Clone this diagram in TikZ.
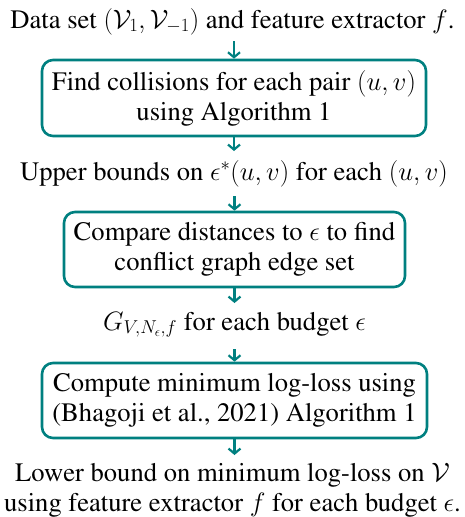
\RequirePackage{fix-cm}
\documentclass[tikz,border=0pt]{standalone}
\usepackage[T1]{fontenc}
\usepackage{times}
\usetikzlibrary{arrows.meta}
\definecolor{boxteal}{RGB}{0,128,128}
\begin{document}
\begin{tikzpicture}[x=1pt,y=1pt,
  every node/.style={font=\fontsize{26.6}{30}\selectfont, inner sep=0pt, align=center},
  procbox/.style={draw=boxteal, line width=2.6pt, rounded corners=11pt, anchor=center},
  lbl/.style={anchor=base},
  arr/.style={draw=boxteal, line width=2.2pt, -{Straight Barb[length=5pt,width=12pt,line width=2.2pt]}}
]
\useasboundingbox (0,0) rectangle (465,-517);
\node[lbl] (t1) at (232.5,-28) {Data set $(\mathcal{V}_1,\mathcal{V}_{-1})$ and feature extractor $f$.};
\node[procbox, minimum width=384pt, minimum height=76pt] (b1) at (234,-98) {Find collisions for each pair $(u,v)$\\using Algorithm 1};
\node[lbl] (t2) at (234,-180) {Upper bounds on $\epsilon^*(u,v)$ for each $(u,v)$};
\node[procbox, minimum width=341pt, minimum height=75pt] (b2) at (234.5,-249.5) {Compare distances to $\epsilon$ to find\\conflict graph edge set};
\node[lbl] (t3) at (234.5,-330) {$G_{V,N_\epsilon,f}$ for each budget $\epsilon$};
\node[procbox, minimum width=385pt, minimum height=75pt] (b3) at (234.5,-400.5) {Compute minimum log-loss using\\(Bhagoji et al., 2021) Algorithm 1};
\node[anchor=north] (t4) at (232.5,-463) {Lower bound on minimum log-loss on $\mathcal{V}$\\using feature extractor $f$ for each budget $\epsilon$.};
\coordinate (a1s) at (234,-41);
\draw[arr] (a1s) -- (b1.north);
\draw[arr] (b1.south) -- (b1.south |- 0,-151);
\draw[arr] (b2.north |- 0,-196) -- (b2.north);
\draw[arr] (b2.south) -- (b2.south |- 0,-303);
\draw[arr] (b3.north |- 0,-349) -- (b3.north);
\draw[arr] (b3.south) -- (b3.south |- 0,-455);
\end{tikzpicture}
\end{document}
